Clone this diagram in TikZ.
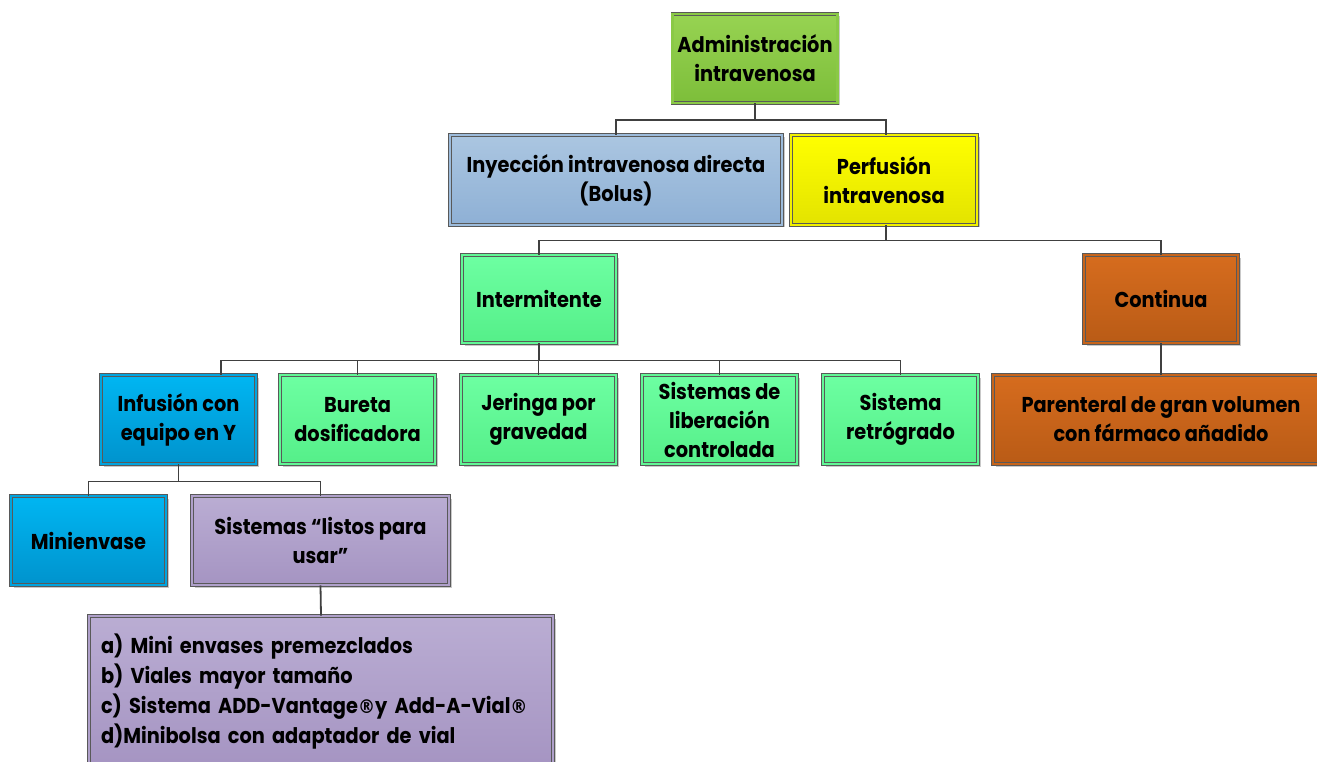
\documentclass[tikz,border=0pt]{standalone}
\usepackage{fontspec}
\setmainfont{Poppins}[FakeStretch=0.9]
\newfontfamily\regfont{DejaVu Sans}[FakeStretch=0.9]
\newcommand{\regmark}{{\regfont\bfseries\fontsize{19}{29}\selectfont ®}}
\usetikzlibrary{shadows}

\definecolor{greenTop}{HTML}{97D352}
\definecolor{greenBot}{HTML}{7DBE3A}
\definecolor{steelTop}{HTML}{ABC6E1}
\definecolor{steelBot}{HTML}{8EB0D5}
\definecolor{yellowTop}{HTML}{FFFF00}
\definecolor{yellowBot}{HTML}{E3E300}
\definecolor{mintTop}{HTML}{6DFFA2}
\definecolor{mintBot}{HTML}{55EF89}
\definecolor{orangeTop}{HTML}{D66C1E}
\definecolor{orangeBot}{HTML}{B95B16}
\definecolor{cyanTop}{HTML}{00B6F2}
\definecolor{cyanBot}{HTML}{0093CD}
\definecolor{lavTop}{HTML}{BAADD3}
\definecolor{lavBot}{HTML}{A594C2}
\definecolor{wireGray}{HTML}{404040}

\tikzset{
  box/.style={rectangle, inner sep=0pt, align=center,
    font=\fontsize{21.5}{29}\selectfont\bfseries,
    draw=black!65, line width=0.8pt, double distance=2.2pt,
    drop shadow={shadow xshift=2.5pt, shadow yshift=-2.5pt, opacity=0.3, fill=black!70}},
  greenbox/.style={box, top color=greenTop, bottom color=greenBot, double=greenTop!50!greenBot},
  steelbox/.style={box, top color=steelTop, bottom color=steelBot, double=steelTop!50!steelBot},
  yellowbox/.style={box, top color=yellowTop, bottom color=yellowBot, double=yellowTop!50!yellowBot},
  mintbox/.style={box, top color=mintTop, bottom color=mintBot, double=mintTop!50!mintBot},
  orangebox/.style={box, top color=orangeTop, bottom color=orangeBot, double=orangeTop!50!orangeBot},
  cyanbox/.style={box, top color=cyanTop, bottom color=cyanBot, double=cyanTop!50!cyanBot},
  lavbox/.style={box, top color=lavTop, bottom color=lavBot, double=lavTop!50!lavBot},
  wire/.style={draw=wireGray, line width=1.8pt},
}

\begin{document}
\begin{tikzpicture}[x=1pt, y=-1pt]
  \useasboundingbox (0,0) rectangle (1317,762);
  \clip (0,0) rectangle (1317,762);

  % top level
  \node[greenbox, minimum width=165pt, minimum height=89pt] (admin) at (755,58.5)
    {Administración\\intravenosa};

  % second level
  \node[steelbox, minimum width=332pt, minimum height=90pt] (iny) at (616,180)
    {Inyección intravenosa directa\\(Bolus)};
  \node[yellowbox, minimum width=186pt, minimum height=90pt] (perf) at (884,180)
    {Perfusión\\intravenosa};

  % third level
  \node[mintbox, minimum width=154pt, minimum height=88pt] (inter) at (539,299)
    {Intermitente};
  \node[orangebox, minimum width=154pt, minimum height=88pt] (cont) at (1161,299)
    {Continua};

  % fourth level
  \node[cyanbox, minimum width=155pt, minimum height=89pt] (infu) at (178.5,419.5)
    {Infusión con\\equipo en Y};
  \node[mintbox, minimum width=155pt, minimum height=89pt] (bur) at (357.5,419.5)
    {Bureta\\dosificadora};
  \node[mintbox, minimum width=155pt, minimum height=89pt] (jer) at (538.5,419.5)
    {Jeringa por\\gravedad};
  \node[mintbox, minimum width=155pt, minimum height=89pt] (lib) at (719.5,419.5)
    {Sistemas de\\liberación\\controlada};
  \node[mintbox, minimum width=155pt, minimum height=89pt] (ret) at (900.5,419.5)
    {Sistema\\retrógrado};
  \node[orangebox, minimum width=336pt, minimum height=89pt] (par) at (1161,419.5)
    {Parenteral de gran volumen\\con fármaco añadido};

  % fifth level
  \node[cyanbox, minimum width=155pt, minimum height=89pt] (mini) at (88.5,540.5)
    {Minienvase};
  \node[lavbox, minimum width=257pt, minimum height=89pt] (listos) at (320.5,540.5)
    {Sistemas “listos para\\usar”};

  % list of ready-to-use systems
  \node[lavbox, minimum width=464pt, minimum height=152pt, text width=440pt, align=left,
        font=\fontsize{21.5}{30}\selectfont\bfseries]
    (lista) at (321,692)
    {a) Mini envases premezclados\\
     b) Viales mayor tamaño\\
     c) Sistema ADD-Vantage\regmark y Add-A-Vial\regmark\\
     d)Minibolsa con adaptador de vial};

  % connectors
  \draw[wire] (admin.south) -- ++(0,17) -| (iny.north);
  \draw[wire] (admin.south) -- ++(0,17) -| ([xshift=2pt]perf.north);
  \draw[wire] ([xshift=2pt]perf.south) -- ++(0,15) -| (inter.north);
  \draw[wire] ([xshift=2pt]perf.south) -- ++(0,15) -| (cont.north);
  \draw[wire] (inter.south) -- ++(0,17) -| ([xshift=42.5pt]infu.north);
  \draw[wire] (inter.south) -- ++(0,17) -| (bur.north);
  \draw[wire] (inter.south) -- ++(0,17) -| (jer.north);
  \draw[wire] (inter.south) -- ++(0,17) -| (lib.north);
  \draw[wire] (inter.south) -- ++(0,17) -| (ret.north);
  \draw[wire] (cont.south) -- (par.north);
  \draw[wire] (infu.south) -- ++(0,17) -| (mini.north);
  \draw[wire] (infu.south) -- ++(0,17) -| (listos.north);
  \draw[wire] (listos.south) -- (lista.north);
\end{tikzpicture}
\end{document}
